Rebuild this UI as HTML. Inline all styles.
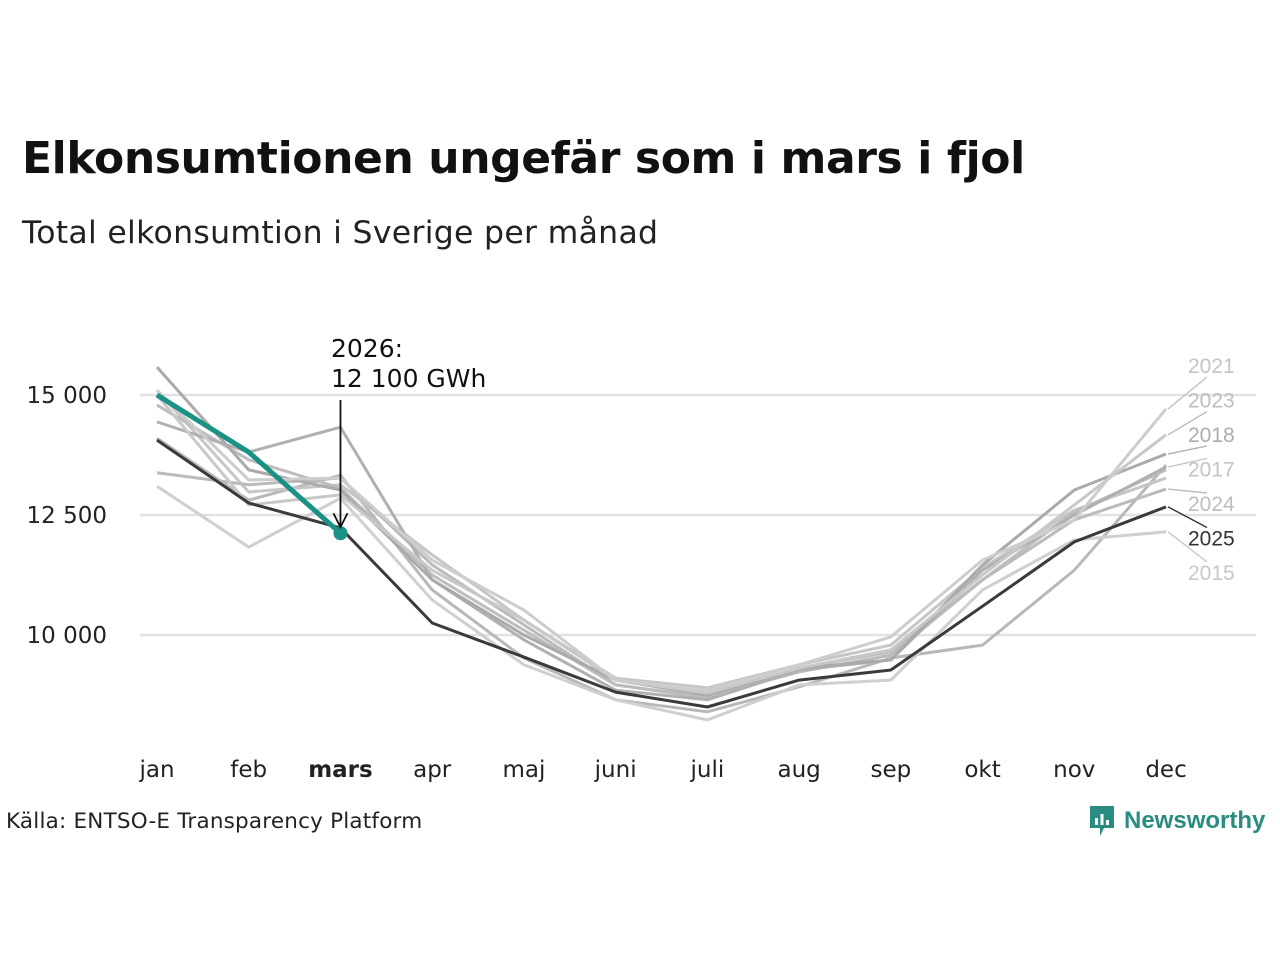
<!DOCTYPE html>
<html><head><meta charset="utf-8"><style>
body{margin:0;background:#fff;font-family:"Liberation Sans","DejaVu Sans",sans-serif;}
#wrap{position:relative;width:1280px;height:960px;overflow:hidden;}
h1{position:absolute;left:22px;top:133px;margin:0;font-size:44px;font-weight:bold;color:#111;letter-spacing:-0.4px;font-family:"DejaVu Sans","Liberation Sans",sans-serif;}
.sub{position:absolute;left:22px;top:215px;font-size:31.5px;color:#222;letter-spacing:0.3px;font-family:"DejaVu Sans","Liberation Sans",sans-serif;}
.src{position:absolute;left:6px;top:809px;font-size:21.5px;color:#222;letter-spacing:0.2px;font-family:"DejaVu Sans","Liberation Sans",sans-serif;}
.logo{position:absolute;left:1088px;top:804px;color:#2a8c80;font-size:24px;font-weight:bold;display:flex;align-items:center;gap:8px;}
</style></head><body>
<div id="wrap">
<h1>Elkonsumtionen ungefär som i mars i fjol</h1>
<div class="sub">Total elkonsumtion i Sverige per månad</div>
<svg id="chart" width="1280" height="960" style="position:absolute;left:0;top:0"></svg>
<div class="src">Källa: ENTSO-E Transparency Platform</div>
<div class="logo"><svg width="28" height="34" viewBox="0 0 28 34"><path d="M2 2h24v22H16l-4 8v-8H2z" fill="#2a8c80"/><rect x="7" y="14" width="3" height="7" fill="#fff"/><rect x="12.5" y="10" width="3" height="11" fill="#fff"/><rect x="18" y="16" width="3" height="5" fill="#fff"/></svg><span>Newsworthy</span></div>
</div>
<script>
const months=["jan","feb","mars","apr","maj","juni","juli","aug","sep","okt","nov","dec"];
const yTicks=[10000,12500,15000];
const yTickLabels=["10 000","12 500","15 000"];
const s2021=[15100,13230,13270,11560,10520,9060,8850,9380,9960,11560,12400,14710];
const s2023=[15000,12710,12920,11350,10310,9060,8790,9310,9690,11250,12710,14170];
const s2018=[15580,13440,13020,11150,10000,9060,8750,9310,9480,11460,13020,13770];
const s2017=[14440,13810,14330,11150,9900,8850,8650,9270,9480,11350,12500,13500];
const s2024=[13380,13130,13270,11460,10210,8960,8710,9230,9580,11150,12400,13040];
const s2015=[13100,11830,12850,10730,9380,8650,8230,8960,9060,10940,11980,12150];
const s2016=[14100,12810,13330,10940,9520,8650,8400,8920,9520,9790,11350,13540];
const s2019=[15100,12980,13130,11670,10310,9100,8900,9380,9790,11400,12600,13270];
const s2020=[14790,13650,13060,11250,10100,8960,8690,9310,9650,11150,12560,13440];
const s2025=[14060,12750,12230,10250,9540,8810,8500,9060,9270,10600,11940,12670];
const s2026=[15000,13810,12120];
const grays=[[s2016,"#b8b8b8"],[s2019,"#c6c6c6"],[s2020,"#bdbdbd"],[s2015,"#cfcfcf"],[s2024,"#bbbbbb"],[s2017,"#b0b0b0"],[s2018,"#aaaaaa"],[s2023,"#c8c8c8"],[s2021,"#cdcdcd"]];
const labelYears=["2021","2023","2018","2017","2024","2025","2015"];
const labelSeries=[s2021,s2023,s2018,s2017,s2024,s2025,s2015];
const labelColors=["#c4c4c4","#bdbdbd","#adadad","#c4c4c4","#bdbdbd","#333","#c8c8c8"];
const NS="http://www.w3.org/2000/svg";
const svg=document.getElementById("chart");
const x=i=>157+i*91.73;
const y=v=>395+(15000-v)*0.048;
function el(t,a){const e=document.createElementNS(NS,t);for(const k in a)e.setAttribute(k,a[k]);svg.appendChild(e);return e;}
yTicks.forEach((t,i)=>{
 const g=el("line",{x1:140,x2:1256,y1:y(t),y2:y(t),stroke:"#e2e2e6","stroke-width":2.5});
 
 
 const tx=el("text",{x:107,y:y(t)+8,"text-anchor":"end","font-size":23,fill:"#222","font-family":"DejaVu Sans, Liberation Sans, sans-serif"});
 tx.textContent=yTickLabels[i];
 
 
});
months.forEach((m,i)=>{
 const tx=el("text",{x:x(i),y:777,"text-anchor":"middle","font-size":23,fill:"#222","font-weight":m==="mars"?"bold":"normal","font-family":"DejaVu Sans, Liberation Sans, sans-serif"});
 tx.textContent=m;
 
 
});
const pts=s=>s.map((v,i)=>x(i)+","+y(v)).join(" ");
grays.forEach(([s,c])=>{
 const p=el("polyline",{points:pts(s),fill:"none",stroke:c,"stroke-width":3,"stroke-linejoin":"round"});
 
 
});
const p25=el("polyline",{points:pts(s2025),fill:"none",stroke:"#3a3a3a","stroke-width":3,"stroke-linejoin":"round"});


const p26=el("polyline",{points:pts(s2026),fill:"none",stroke:"#1a9185","stroke-width":5,"stroke-linejoin":"round"});


const dot=el("circle",{cx:x(2),cy:y(s2026[2]),r:7,fill:"#1a9185"});


const ar=el("path",{d:`M${x(2)} 400 V${y(s2026[2])-6} M${x(2)-7} ${y(s2026[2])-20} L${x(2)} ${y(s2026[2])-6} L${x(2)+7} ${y(s2026[2])-20}`,stroke:"#111","stroke-width":1.8,fill:"none"});


["2026:","12 100 GWh"].forEach((t,i)=>{
 const tx=el("text",{x:331,y:357+i*30,"font-size":25,fill:"#111","font-family":"DejaVu Sans, Liberation Sans, sans-serif"});
 tx.textContent=t;
 
 
});
labelYears.forEach((yr,i)=>{
 const ly=366+i*34.5;
 const ld=el("line",{x1:x(11)+2,y1:y(labelSeries[i][11]),x2:1207,y2:ly<y(labelSeries[i][11])?ly+11:ly-11,stroke:labelColors[i],"stroke-width":1.4});
 
 
 const tx=el("text",{x:1188,y:ly+7,"font-size":21,fill:labelColors[i]});
 tx.textContent=yr;
 
 
});
</script>
</body></html>
